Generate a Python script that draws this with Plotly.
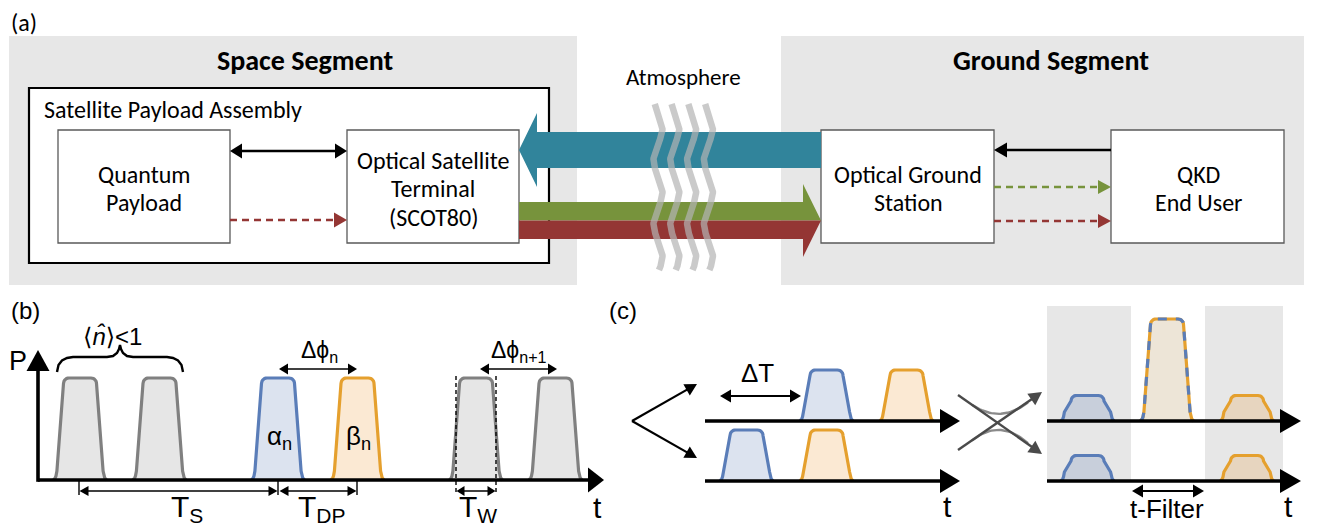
import numpy as np
import plotly.graph_objects as go

W, H = 1323, 525
OFF = 8  # browser body margin, compensated in the axis ranges

# ---------------- data: texts and pulse sequences ----------------
panel_labels = ["(a)", "(b)", "(c)"]
segment_titles = ["Space Segment", "Ground Segment"]
assembly_label = "Satellite Payload Assembly"
space_blocks = [["Quantum", "Payload"], ["Optical Satellite", "Terminal", "(SCOT80)"]]
ground_blocks = [["Optical Ground", "Station"], ["QKD", "End User"]]
channel_label = "Atmosphere"

b_pulse_kind = ["decoy", "decoy", "alpha", "beta", "decoy", "decoy"]
b_pulse_amp = [1.0, 1.0, 1.0, 1.0, 1.0, 1.0]
b_pulse_text = ["", "", "α<sub>n</sub>", "β<sub>n</sub>", "", ""]
b_phase_labels = ["Δϕ<sub>n</sub>", "Δϕ<sub>n+1</sub>"]
b_time_labels = ["T<sub>S</sub>", "T<sub>DP</sub>", "T<sub>W</sub>"]
b_mean_label = "⟨<i>n̂</i>⟩<1"
axis_labels = ["P", "t"]

c_in_upper_kind, c_in_upper_amp = ["alpha", "beta"], [0.5, 0.5]
c_in_lower_kind, c_in_lower_amp = ["alpha", "beta"], [0.5, 0.5]
c_out_upper_kind, c_out_upper_amp = ["alpha", "mix", "beta"], [0.25, 1.0, 0.25]
c_out_lower_kind, c_out_lower_amp = ["alpha", "beta"], [0.25, 0.25]
c_labels = ["ΔT", "t-Filter"]

# ---------------- styles ----------------
FA = "Carlito, Lato, sans-serif"
FB = "Liberation Sans, Arial, DejaVu Sans, sans-serif"
GRAYBG = "#e7e7e7"
TEAL, GREEN, RED = "#31849b", "#77933c", "#943634"
STYLE = {
    "decoy": dict(fill="#e6e6e6", line="#808080"),
    "alpha": dict(fill="rgba(80,115,175,0.2)", line="#5a7db8"),
    "beta": dict(fill="rgba(235,145,35,0.2)", line="#e5a02e"),
    "mix": dict(fill="rgba(190,160,110,0.28)", line="#e5a02e"),
}

traces, shapes, annos = [], [], []


def poly(xs, ys, fill):
    traces.append(go.Scatter(x=list(xs) + [xs[0]], y=list(ys) + [ys[0]], mode="lines",
                             fill="toself", fillcolor=fill, line=dict(color=fill, width=0),
                             hoverinfo="skip"))


def line(xs, ys, color, lw, dash=None):
    traces.append(go.Scatter(x=list(xs), y=list(ys), mode="lines",
                             line=dict(color=color, width=lw, dash=dash), hoverinfo="skip"))


def arrow(x0, y0, x1, y1, color, lw, hl, hw, dash=None, both=False):
    L = np.hypot(x1 - x0, y1 - y0)
    ux, uy = (x1 - x0) / L, (y1 - y0) / L
    px, py = -uy, ux

    def head(tx, ty, vx, vy):
        bx, by = tx - vx * hl, ty - vy * hl
        poly([tx, bx + px * hw, bx - px * hw], [ty, by + py * hw, by - py * hw], color)

    sx, sy = (x0 + ux * hl * 0.7, y0 + uy * hl * 0.7) if both else (x0, y0)
    ex, ey = x1 - ux * hl * 0.7, y1 - uy * hl * 0.7
    line([sx, ex], [sy, ey], color, lw, dash)
    head(x1, y1, ux, uy)
    if both:
        head(x0, y0, -ux, -uy)


def rect(x0, y0, x1, y1, fill, lc=None, lw=0):
    shapes.append(dict(type="rect", xref="x", yref="y", x0=x0, y0=y0, x1=x1, y1=y1,
                       fillcolor=fill, line=dict(color=lc or fill, width=lw), layer="below"))


def text(x, y, s, size, font=FA, color="black", bold=False, xanchor="center"):
    annos.append(dict(x=x, y=y, xref="x", yref="y", text=f"<b>{s}</b>" if bold else s,
                      showarrow=False, xanchor=xanchor, yanchor="middle", borderpad=0,
                      font=dict(family=font, size=size, color=color)))


def pulse_outline(c, base, h, wb=23.5, wt=16.5, r=5.5):
    xs, ys = [c - wb - 3.0], [base]
    for t in np.linspace(0, 1, 6)[1:]:
        xs.append((1 - t) ** 2 * (c - wb - 3) + 2 * t * (1 - t) * (c - wb - 0.3) + t ** 2 * (c - wb + 0.4))
        ys.append((1 - t) ** 2 * base + 2 * t * (1 - t) * (base - 2) + t ** 2 * (base - 9))
    xs.append(c - wt); ys.append(base - h + r)
    for a in np.linspace(np.pi, 1.5 * np.pi, 8):
        xs.append(c - wt + r + r * np.cos(a)); ys.append(base - h + r + r * np.sin(a))
    for a in np.linspace(1.5 * np.pi, 2 * np.pi, 8):
        xs.append(c + wt - r + r * np.cos(a)); ys.append(base - h + r + r * np.sin(a))
    xs.append(c + wb - 0.4); ys.append(base - 9)
    for t in np.linspace(0, 1, 6)[1:]:
        xs.append((1 - t) ** 2 * (c + wb - 0.4) + 2 * t * (1 - t) * (c + wb + 0.3) + t ** 2 * (c + wb + 3))
        ys.append((1 - t) ** 2 * (base - 9) + 2 * t * (1 - t) * (base - 2) + t ** 2 * base)
    return xs, ys


def pulse(c, base, h, kind, lw=3.2):
    st = STYLE[kind]
    xs, ys = pulse_outline(c, base, h)
    poly(xs, ys, st["fill"])
    if kind == "mix":
        line(xs, ys, STYLE["beta"]["line"], lw)
        line(xs, ys, STYLE["alpha"]["line"], lw, dash="9px,9px")
    else:
        line(xs, ys, st["line"], lw)


# ======================= panel (a) =======================
rect(9, 36, 577, 285, GRAYBG)
rect(781, 36, 1304, 285, GRAYBG)
rect(29, 88, 549, 263, "white", "#000000", 2.2)
rect(58, 130, 230, 243, "white", "#595959", 1.3)
rect(347, 130, 519, 243, "white", "#595959", 1.3)
rect(821, 130, 994, 243, "white", "#595959", 1.3)
rect(1111, 130, 1284, 243, "white", "#595959", 1.3)

# free-space beams
poly([519, 537, 537, 821, 821, 537, 537], [150, 113, 132, 132, 168, 168, 187], TEAL)
poly([519, 803, 803, 821, 519], [202, 202, 184, 220.5, 220.5], GREEN)
poly([519, 821, 803, 803, 519], [220.5, 220.5, 257, 239, 239], RED)

# atmosphere turbulence
yy = np.linspace(104, 270, 160)
for k in range(4):
    xx = 658 + 16.8 * k + 4.5 * np.sin(2 * np.pi * (yy - 104) / 64.0 - 0.8)
    line(xx, yy, "rgba(180,180,180,0.7)", 6.5)

# links inside segments
arrow(230, 151, 347, 151, "black", 2.6, 12, 7.5, both=True)
arrow(230, 220, 347, 220, RED, 2.6, 13, 7.5, dash="7px,5px")
arrow(1111, 150, 994, 150, "black", 2.6, 13, 7.5)
arrow(994, 187, 1111, 187, GREEN, 2.4, 13, 7, dash="7px,5px")
arrow(994, 221, 1111, 221, RED, 2.4, 13, 7, dash="7px,5px")

text(10, 22, panel_labels[0], 24, xanchor="left")
text(305, 60, segment_titles[0], 28, bold=True)
text(1051, 60, segment_titles[1], 28, bold=True)
text(683, 77, channel_label, 23)
text(43, 109, assembly_label, 24, xanchor="left")
for i, s in enumerate(space_blocks[0]):
    text(144, 174 + 28 * i, s, 24)
for i, s in enumerate(space_blocks[1]):
    text(433, 160 + 28.5 * i, s, 24)
for i, s in enumerate(ground_blocks[0]):
    text(908, 174 + 28 * i, s, 24)
for i, s in enumerate(ground_blocks[1]):
    text(1198, 174 + 28 * i, s, 24)

# ======================= panel (b) =======================
b_base, b_h = 480, 102
b_centers = [80, 159.5, 278, 357.5, 476, 555.5]
for c, k, a in zip(b_centers, b_pulse_kind, b_pulse_amp):
    pulse(c, b_base, b_h * a, k)
for c, s in zip(b_centers, b_pulse_text):
    if s:
        text(c + 1, 437, s, 26, font=FB)

line([38, 590], [b_base, b_base], "black", 3.6)
poly([604, 588, 588], [b_base, b_base - 12.5, b_base + 12.5], "black")
line([38, 38], [b_base + 1.8, 368], "black", 3.6)
poly([38, 26.5, 49.5], [350, 371, 371], "black")
text(18, 361, axis_labels[0], 27, font=FB)
text(597, 507, axis_labels[1], 30, font=FB)

for xv in [456, 496]:
    line([xv, xv], [376, 493], "black", 1.4, dash="4px,3px")
arrow(456.5, 491, 495.5, 491, "black", 1.5, 8, 5, both=True)

for xv in [79, 278, 357]:
    line([xv, xv], [481, 495], "black", 1.4)
arrow(79.5, 491, 277.5, 491, "black", 1.5, 9, 5, both=True)
arrow(279.5, 491, 356.5, 491, "black", 1.5, 9, 5, both=True)
text(187, 508, b_time_labels[0], 30, font=FB)
text(322, 508, b_time_labels[1], 30, font=FB)
text(478, 508, b_time_labels[2], 30, font=FB)

arrow(279, 369, 357, 369, "black", 1.5, 9, 5.5, both=True)
arrow(480, 369, 557, 369, "black", 1.5, 9, 5.5, both=True)
text(319, 351, b_phase_labels[0], 23, font=FB)
text(519, 351, b_phase_labels[1], 23, font=FB)

bx = [57, 58.5, 62, 67, 73, 107, 113, 117, 119, 120]
by = [372, 365, 360.5, 358, 357, 357, 356, 353, 349, 345]
line(bx + [240 - v for v in bx[::-1]], by + by[::-1], "black", 2.4)
text(112, 336, b_mean_label, 24, font=FB)

# ======================= panel (c) =======================
text(608, 310, panel_labels[2], 24, font=FB, xanchor="left")
text(10, 310, panel_labels[1], 24, font=FB, xanchor="left")

arrow(632, 421, 697, 384, "black", 2.2, 12, 6.5)
arrow(632, 421, 697, 458, "black", 2.2, 12, 6.5)

yu, yl = 421, 481
for k, a, c in zip(c_in_upper_kind, c_in_upper_amp, [826.5, 906.5]):
    pulse(c, yu, b_h * a, k)
for k, a, c in zip(c_in_lower_kind, c_in_lower_amp, [746.5, 826.5]):
    pulse(c, yl, b_h * a, k)
for yv in [yu, yl]:
    line([705, 942], [yv, yv], "black", 3.6)
    poly([960, 940, 940], [yv, yv - 12, yv + 12], "black")
arrow(720, 396, 801, 396, "black", 2.2, 11, 6.5, both=True)
text(757, 373, c_labels[0], 26, font=FB)
text(947, 506, axis_labels[1], 30, font=FB)

t = np.linspace(0, 1, 30)
cx = (1 - t) ** 2 * 972 + 2 * t * (1 - t) * 1000 + t ** 2 * 1028
line(cx, (1 - t) ** 2 * 404.7 + 2 * t * (1 - t) * 424 + t ** 2 * 402.5, "#8a8a8a", 2.4)
line(cx, (1 - t) ** 2 * 440.5 + 2 * t * (1 - t) * 418 + t ** 2 * 443.3, "#8a8a8a", 2.4)
arrow(958, 395, 1042, 454, "#4a4a4a", 2.4, 13, 7)
arrow(958, 450, 1042, 392, "#4a4a4a", 2.4, 13, 7)

rect(1047, 306, 1131, 481, GRAYBG)
rect(1205, 306, 1283, 481, GRAYBG)
for k, a, c in zip(c_out_upper_kind, c_out_upper_amp, [1087.5, 1167, 1247]):
    pulse(c, yu, b_h * a, k)
for k, a, c in zip(c_out_lower_kind, c_out_lower_amp, [1087.5, 1247]):
    pulse(c, yl, b_h * a, k)
for yv in [yu, yl]:
    line([1047, 1282], [yv, yv], "black", 3.6)
    poly([1301, 1280, 1280], [yv, yv - 12, yv + 12], "black")
arrow(1132, 491, 1204, 491, "black", 2.2, 11, 6.5, both=True)
text(1167, 509, c_labels[1], 26, font=FB)
text(1288, 506, axis_labels[1], 30, font=FB)

fig = go.Figure(traces)
fig.update_layout(
    width=W, height=H, margin=dict(l=0, r=0, t=0, b=0), autosize=False,
    xaxis=dict(range=[OFF, W + OFF], visible=False, fixedrange=True),
    yaxis=dict(range=[H + OFF, OFF], visible=False, fixedrange=True),
    plot_bgcolor="white", paper_bgcolor="white", showlegend=False,
    shapes=shapes, annotations=annos,
)
fig.write_html("out.html")
